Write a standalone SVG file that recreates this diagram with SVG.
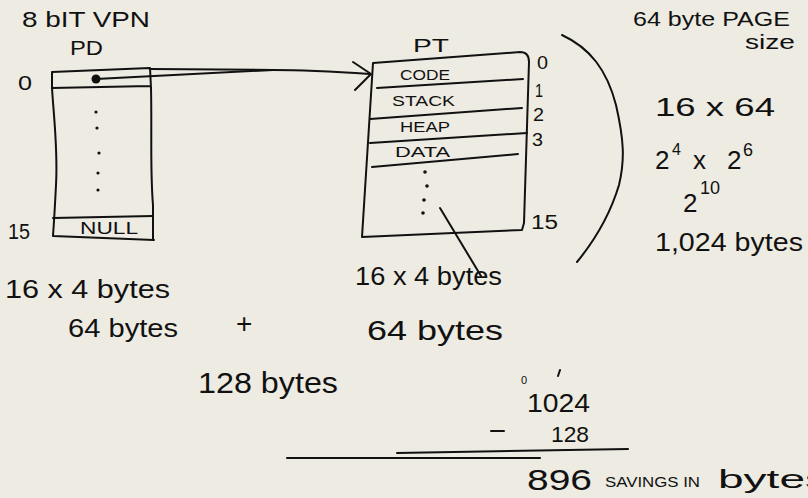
<svg xmlns="http://www.w3.org/2000/svg" width="808" height="498" viewBox="0 0 808 498">
  <style>
    .ink { fill: none; stroke: #111; stroke-width: 2; stroke-linecap: round; stroke-linejoin: round; }
    .t { font-family: "Liberation Sans", "DejaVu Sans", sans-serif; fill: #111; }
    .dot { fill: #111; }
  </style>
  <rect width="808" height="498" fill="#edebe2"/>

  <!-- Titles and notes -->
  <text class="t" x="22" y="27" font-size="22" textLength="128" lengthAdjust="spacingAndGlyphs">8 bIT VPN</text>
  <text class="t" x="70" y="55" font-size="20" textLength="33" lengthAdjust="spacingAndGlyphs">PD</text>

  <!-- Page directory -->
  <g id="pd">
    <path class="ink" d="M52,72 L150,68 L151,88 M52,72 L52,88 L150,86"/>
    <path class="ink" d="M52,88 C54,120 58,150 56,185 C55,205 54,222 53,236 L154,240"/>
    <path class="ink" d="M151,88 C152,130 150,170 153,205 L153,240"/>
    <path class="ink" d="M53,218 L153,216"/>
    <circle class="dot" cx="96" cy="79" r="4.5"/>
    <circle class="dot" cx="96" cy="112" r="1.6"/>
    <circle class="dot" cx="97" cy="128" r="1.6"/>
    <circle class="dot" cx="99" cy="153" r="1.6"/>
    <circle class="dot" cx="98" cy="173" r="1.6"/>
    <circle class="dot" cx="98" cy="190" r="1.6"/>
    <text class="t" x="18" y="90" font-size="20" textLength="14" lengthAdjust="spacingAndGlyphs">0</text>
    <text class="t" x="8" y="239" font-size="22" textLength="22" lengthAdjust="spacingAndGlyphs">15</text>
    <text class="t" x="80" y="234" font-size="16" textLength="58" lengthAdjust="spacingAndGlyphs">NULL</text>
  </g>

  <!-- Page table -->
  <g id="pt">
    <path class="ink" d="M373,63 L520,52 C526,52 529,56 529,62 L524,223 L522,230 L362,237 Z"/>
    <path class="ink" d="M377,88 L523,79"/>
    <path class="ink" d="M370,119 L522,108"/>
    <path class="ink" d="M370,143 L527,133"/>
    <path class="ink" d="M372,167 L518,154"/>
    <circle class="dot" cx="425" cy="172" r="1.8"/>
    <circle class="dot" cx="427" cy="186" r="1.8"/>
    <circle class="dot" cx="424" cy="200" r="1.8"/>
    <circle class="dot" cx="423" cy="213" r="1.8"/>
    <text class="t" x="413" y="52" font-size="18" textLength="36" lengthAdjust="spacingAndGlyphs">PT</text>
    <text class="t" x="400" y="80" font-size="15" textLength="50" lengthAdjust="spacingAndGlyphs">CODE</text>
    <text class="t" x="392" y="106" font-size="15" textLength="63" lengthAdjust="spacingAndGlyphs">STACK</text>
    <text class="t" x="400" y="132" font-size="15" textLength="50" lengthAdjust="spacingAndGlyphs">HEAP</text>
    <text class="t" x="395" y="157" font-size="15" textLength="55" lengthAdjust="spacingAndGlyphs">DATA</text>
    <text class="t" x="537" y="69" font-size="18" textLength="11" lengthAdjust="spacingAndGlyphs">0</text>
    <text class="t" x="535" y="97" font-size="18" textLength="8" lengthAdjust="spacingAndGlyphs">1</text>
    <text class="t" x="533" y="121" font-size="18" textLength="11" lengthAdjust="spacingAndGlyphs">2</text>
    <text class="t" x="532" y="146" font-size="18" textLength="11" lengthAdjust="spacingAndGlyphs">3</text>
    <text class="t" x="531" y="229" font-size="20" textLength="27" lengthAdjust="spacingAndGlyphs">15</text>
  </g>

  <!-- Connectors and marks -->
  <g id="connectors">
    <path class="ink" d="M150,69 L273,70 C310,70 340,72 370,74"/>
    <path class="ink" d="M96,79 L273,70"/>
    <path class="ink" d="M353,62 L371,74 L355,90"/>
    <path class="ink" d="M440,208 L481,276"/>
    <path class="ink" d="M562,35 C590,48 607,70 616,105 C624,140 625,160 619,185 C610,215 595,240 577,262"/>
    <path class="ink" d="M287,458 L540,458"/>
    <path class="ink" d="M397,453 L628,449"/>
    <path class="ink" d="M491,431 L504,431"/>
    <path class="ink" d="M560,370 L558,376"/>
  </g>

  <!-- Size arithmetic -->
  <text class="t" x="633" y="26" font-size="20" textLength="157" lengthAdjust="spacingAndGlyphs">64 byte PAGE</text>
  <text class="t" x="745" y="49" font-size="20" textLength="50" lengthAdjust="spacingAndGlyphs">size</text>
  <text class="t" x="655" y="116" font-size="26" textLength="120" lengthAdjust="spacingAndGlyphs">16 x 64</text>
  <text class="t" x="655" y="169" font-size="26">2</text>
  <text class="t" x="672" y="155" font-size="16">4</text>
  <text class="t" x="693" y="169" font-size="26">x</text>
  <text class="t" x="727" y="169" font-size="26">2</text>
  <text class="t" x="743" y="156" font-size="18">6</text>
  <text class="t" x="683" y="212" font-size="26">2</text>
  <text class="t" x="700" y="194" font-size="18">10</text>
  <text class="t" x="655" y="251" font-size="26" textLength="148" lengthAdjust="spacingAndGlyphs">1,024 bytes</text>

  <text class="t" x="5" y="298" font-size="26" textLength="165" lengthAdjust="spacingAndGlyphs">16 x 4 bytes</text>
  <text class="t" x="68" y="337" font-size="26" textLength="110" lengthAdjust="spacingAndGlyphs">64 bytes</text>
  <text class="t" x="236" y="333" font-size="28">+</text>
  <text class="t" x="198" y="393" font-size="30" textLength="140" lengthAdjust="spacingAndGlyphs">128 bytes</text>
  <text class="t" x="355" y="285" font-size="26" textLength="147" lengthAdjust="spacingAndGlyphs">16 x 4 bytes</text>
  <text class="t" x="367" y="340" font-size="28" textLength="136" lengthAdjust="spacingAndGlyphs">64 bytes</text>

  <text class="t" x="521" y="384" font-size="11">0</text>
  <text class="t" x="527" y="412" font-size="26" textLength="63" lengthAdjust="spacingAndGlyphs">1024</text>
  <text class="t" x="551" y="442" font-size="22" textLength="38" lengthAdjust="spacingAndGlyphs">128</text>
  <text class="t" x="527" y="490" font-size="30" textLength="65" lengthAdjust="spacingAndGlyphs">896</text>
  <text class="t" x="605" y="487" font-size="14" textLength="95" lengthAdjust="spacingAndGlyphs">SAVINGS IN</text>
  <text class="t" x="718" y="488" font-size="26" textLength="110" lengthAdjust="spacingAndGlyphs">bytes</text>
</svg>
